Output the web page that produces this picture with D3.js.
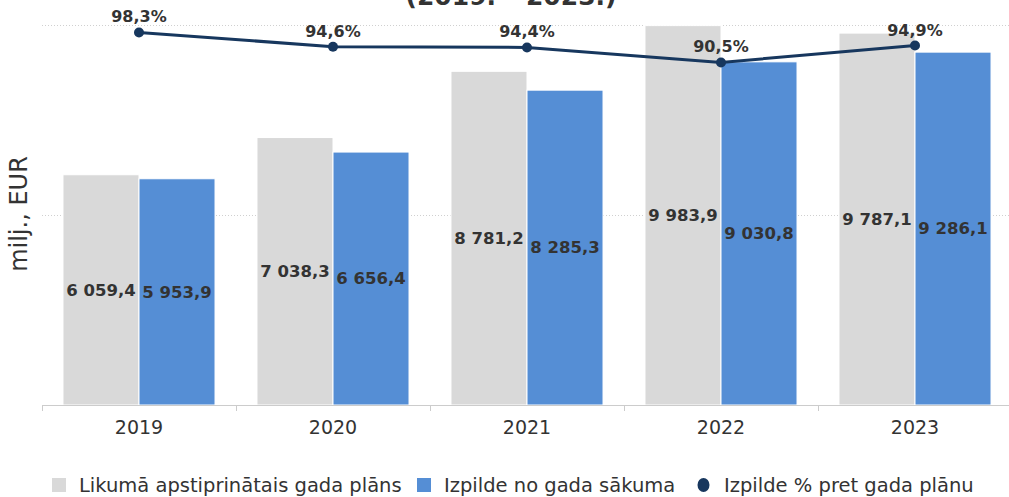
<!DOCTYPE html>
<html>
<head>
<meta charset="utf-8">
<script src="https://cdn.jsdelivr.net/npm/d3@7/dist/d3.min.js"></script>
<style>
  html, body { margin: 0; padding: 0; background: #fff; }
  svg { display: block; font-family: "DejaVu Sans", sans-serif; }
</style>
</head>
<body>
<svg id="chart" width="1009" height="497"></svg>
<script>
// Budget plan vs. execution, 2019–2023
const years = ["2019", "2020", "2021", "2022", "2023"];
const planValues = [6059.4, 7038.3, 8781.2, 9983.9, 9787.1];      // Likumā apstiprinātais gada plāns
const actualValues = [5953.9, 6656.4, 8285.3, 9030.8, 9286.1];    // Izpilde no gada sākuma
const executionPct = [98.3, 94.6, 94.4, 90.5, 94.9];              // Izpilde % pret gada plānu
const gridTicks = [0, 5000, 10000];
const seriesNames = ["Likumā apstiprinātais gada plāns", "Izpilde no gada sākuma", "Izpilde % pret gada plānu"];

const colors = { plan: "#d9d9d9", actual: "#558ed5", pct: "#17375e", text: "#333333" };

const svg = d3.select("#chart");
const plot = { left: 42, right: 1012, top: 25, bottom: 405 };

const fmtNum = v => {
  const [i, d] = v.toFixed(1).split(".");
  return i.replace(/\B(?=(\d{3})+(?!\d))/g, " ") + "," + d;
};
const fmtPct = v => v.toFixed(1).replace(".", ",") + "%";

const x = d3.scaleBand().domain(years).range([plot.left, plot.right]).paddingInner(0).paddingOuter(0);
const inner = d3.scaleBand().domain(["plan", "actual"]).range([0, x.bandwidth()]).paddingInner(0).paddingOuter(0.276);
const y = d3.scaleLinear().domain([0, 10000]).range([plot.bottom, plot.top]);
const yPct = d3.scaleLinear().domain([0, 100]).range([410.5, 25.9]);

// Title (second line of the heading)
svg.append("text")
  .attr("x", 511).attr("y", 5)
  .attr("text-anchor", "middle")
  .attr("font-size", 25).attr("font-weight", "bold")
  .attr("fill", colors.text)
  .text("(2019. – 2023.)");

// Gridlines
svg.append("g").selectAll("line")
  .data(gridTicks.filter(t => t > 0))
  .join("line")
  .attr("x1", plot.left).attr("x2", 1009)
  .attr("y1", d => Math.round(y(d)) + 0.5).attr("y2", d => Math.round(y(d)) + 0.5)
  .attr("stroke", "#d0d0d0").attr("stroke-width", 1)
  .attr("stroke-dasharray", "1,2");

// Y axis title
svg.append("text")
  .attr("transform", "translate(27,214) rotate(-90)")
  .attr("text-anchor", "middle")
  .attr("font-size", 24)
  .attr("fill", colors.text)
  .text("milj., EUR");

// Bars
const groups = svg.append("g").selectAll("g")
  .data(years.map((yr, i) => ({ yr, plan: planValues[i], actual: actualValues[i] })))
  .join("g")
  .attr("transform", d => `translate(${x(d.yr)},0)`);

["plan", "actual"].forEach(key => {
  groups.append("rect")
    .attr("x", inner(key))
    .attr("width", inner.bandwidth())
    .attr("y", d => y(d[key]))
    .attr("height", d => y(0) - y(d[key]))
    .attr("fill", colors[key])
    .attr("stroke", "#ffffff").attr("stroke-width", 1);

  groups.append("text")
    .attr("x", inner(key) + inner.bandwidth() / 2)
    .attr("y", d => (y(d[key]) + y(0)) / 2)
    .attr("dy", "0.35em")
    .attr("text-anchor", "middle")
    .attr("font-size", 16.5).attr("font-weight", "bold")
    .attr("fill", colors.text)
    .text(d => fmtNum(d[key]));
});

// X axis
const xAxis = svg.append("g").attr("transform", `translate(0,${plot.bottom})`);
xAxis.append("line")
  .attr("x1", plot.left).attr("x2", 1009).attr("y1", 0.5).attr("y2", 0.5)
  .attr("stroke", "#cccccc");
xAxis.selectAll("line.tick")
  .data(years.map(d => x(d)))
  .join("line").attr("class", "tick")
  .attr("x1", d => Math.round(d) + 0.5).attr("x2", d => Math.round(d) + 0.5)
  .attr("y1", 0).attr("y2", 6)
  .attr("stroke", "#cccccc");
xAxis.selectAll("text")
  .data(years)
  .join("text")
  .attr("x", d => x(d) + x.bandwidth() / 2)
  .attr("y", 29)
  .attr("text-anchor", "middle")
  .attr("font-size", 19)
  .attr("fill", colors.text)
  .text(d => d);

// Execution percentage line
const pts = years.map((yr, i) => [x(yr) + x.bandwidth() / 2, yPct(executionPct[i])]);
svg.append("path")
  .attr("d", d3.line()(pts))
  .attr("fill", "none")
  .attr("stroke", colors.pct).attr("stroke-width", 3);
svg.append("g").selectAll("circle")
  .data(pts)
  .join("circle")
  .attr("cx", d => d[0]).attr("cy", d => d[1]).attr("r", 5)
  .attr("fill", colors.pct);
svg.append("g").selectAll("text")
  .data(pts)
  .join("text")
  .attr("x", d => d[0]).attr("y", d => d[1] - 10)
  .attr("text-anchor", "middle")
  .attr("font-size", 16).attr("font-weight", "bold")
  .attr("fill", colors.text)
  .text((d, i) => fmtPct(executionPct[i]));

// Legend
const legendItems = [
  { name: seriesNames[0], color: colors.plan, x: 52, shape: "rect" },
  { name: seriesNames[1], color: colors.actual, x: 417, shape: "rect" },
  { name: seriesNames[2], color: colors.pct, x: 697, shape: "circle" }
];
const legend = svg.append("g");
legendItems.forEach(it => {
  if (it.shape === "rect") {
    legend.append("rect").attr("x", it.x).attr("y", 478).attr("width", 14).attr("height", 14).attr("fill", it.color);
  } else {
    legend.append("ellipse").attr("cx", it.x + 6.5).attr("cy", 485).attr("rx", 6).attr("ry", 7).attr("fill", it.color);
  }
  legend.append("text")
    .attr("x", it.x + 27).attr("y", 485).attr("dy", "0.35em")
    .attr("font-size", 19.5)
    .attr("fill", colors.text)
    .text(it.name);
});
</script>
</body>
</html>
